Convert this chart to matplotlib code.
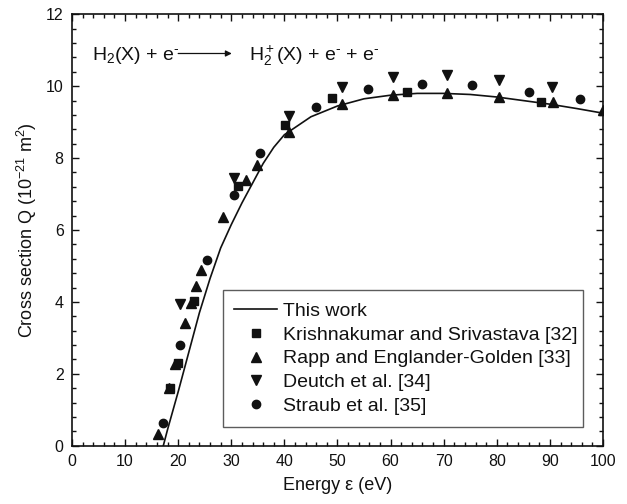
import matplotlib
matplotlib.use("Agg")
import matplotlib.pyplot as plt
from matplotlib.ticker import MultipleLocator

plt.rcParams['font.family'] = ['Liberation Sans', 'DejaVu Sans']
plt.rcParams['mathtext.fontset'] = 'custom'
plt.rcParams['mathtext.rm'] = 'Liberation Sans'
plt.rcParams['mathtext.it'] = 'Liberation Sans:italic'
plt.rcParams['mathtext.bf'] = 'Liberation Sans:bold'

# "This work" curve
curve_x = [17.2, 18, 20, 22, 24, 26, 28, 30, 32, 34, 36, 38, 40, 45, 50, 55, 60, 65, 70, 75, 80, 85, 90, 95, 100]
curve_y = [0.0, 0.45, 1.5, 2.6, 3.7, 4.65, 5.5, 6.15, 6.75, 7.3, 7.85, 8.3, 8.65, 9.15, 9.45, 9.65, 9.75, 9.8, 9.8, 9.77, 9.7, 9.6, 9.5, 9.38, 9.25]

# Krishnakumar and Srivastava [32]
kri_x = [18.4, 20.0, 23.0, 31.3, 40.2, 49.0, 63.0, 88.3]
kri_y = [1.60, 2.31, 4.02, 7.22, 8.92, 9.66, 9.83, 9.55]

# Rapp and Englander-Golden [33]
rapp_x = [16.2, 18.3, 19.4, 21.3, 22.4, 23.3, 24.3, 28.4, 32.7, 34.8, 40.8, 50.8, 60.5, 70.6, 80.4, 90.5, 100.0]
rapp_y = [0.33, 1.60, 2.26, 3.41, 3.96, 4.43, 4.89, 6.36, 7.39, 7.81, 8.73, 9.50, 9.75, 9.80, 9.71, 9.55, 9.33]

# Deutch et al. [34]
deu_x = [20.3, 30.5, 40.8, 50.8, 60.5, 70.6, 80.5, 90.4]
deu_y = [3.94, 7.46, 9.17, 9.97, 10.26, 10.30, 10.17, 9.97]

# Straub et al. [35]
str_x = [17.2, 20.3, 25.5, 30.5, 35.5, 45.9, 55.8, 65.9, 75.3, 86.0, 95.7]
str_y = [0.62, 2.80, 5.17, 6.97, 8.15, 9.43, 9.92, 10.06, 10.03, 9.84, 9.64]

labels = ["This work", "Krishnakumar and Srivastava [32]", "Rapp and Englander-Golden [33]",
          "Deutch et al. [34]", "Straub et al. [35]"]

fig = plt.figure(figsize=(6.27, 5.04), dpi=100)
ax = fig.add_axes([0.1148, 0.1157, 0.8469, 0.8559])

c = '#111111'
ax.plot(curve_x, curve_y, '-', color=c, lw=1.2, label=labels[0])
ax.plot(kri_x, kri_y, 's', color=c, ms=5.4, ls='none', label=labels[1])
ax.plot(rapp_x, rapp_y, '^', color=c, ms=7, ls='none', label=labels[2])
ax.plot(deu_x, deu_y, 'v', color=c, ms=7, ls='none', label=labels[3])
ax.plot(str_x, str_y, 'o', color=c, ms=6, ls='none', label=labels[4])

ax.set_xlim(0, 100)
ax.set_ylim(0, 12)
ax.xaxis.set_major_locator(MultipleLocator(10))
ax.xaxis.set_minor_locator(MultipleLocator(2))
ax.yaxis.set_major_locator(MultipleLocator(2))
ax.yaxis.set_minor_locator(MultipleLocator(0.4))
ax.tick_params(which='both', direction='in', top=True, right=True, colors=c, labelsize=11.5)
ax.tick_params(which='major', length=5, width=1.0, pad=6)
ax.tick_params(which='minor', length=3, width=1.0)
for s in ax.spines.values():
    s.set_linewidth(1.2)
    s.set_color(c)

ax.set_xlabel('Energy ε (eV)', fontsize=13, color=c, labelpad=6)
ax.set_ylabel('Cross section Q (10$^{-21}$ m$^2$)', fontsize=13, color=c, labelpad=5)

ax.text(3.7, 10.72, 'H$_2$(X) + e$^{‐}$', fontsize=14, color=c, va='baseline', ha='left')
ax.annotate('', xy=(30.1, 10.91), xytext=(20.0, 10.91),
            arrowprops=dict(arrowstyle='-|>', color=c, lw=0.9, mutation_scale=9, shrinkA=0, shrinkB=0))
ax.text(33.3, 10.72, 'H$_2^+$(X) + e$^{‐}$ + e$^{‐}$', fontsize=14, color=c, va='baseline', ha='left')

leg = ax.legend(loc='lower left', bbox_to_anchor=(0.2838, 0.044, 0.679, 0.321), mode='expand',
                borderaxespad=0, fontsize=14, fancybox=False, frameon=True, numpoints=1,
                handlelength=2.19, handletextpad=0.3, labelspacing=0.32, borderpad=0.6)
leg.get_frame().set_edgecolor('#333333')
leg.get_frame().set_linewidth(1.0)
for t in leg.get_texts():
    t.set_color(c)

fig.savefig('out.png', dpi=100, facecolor='white')
